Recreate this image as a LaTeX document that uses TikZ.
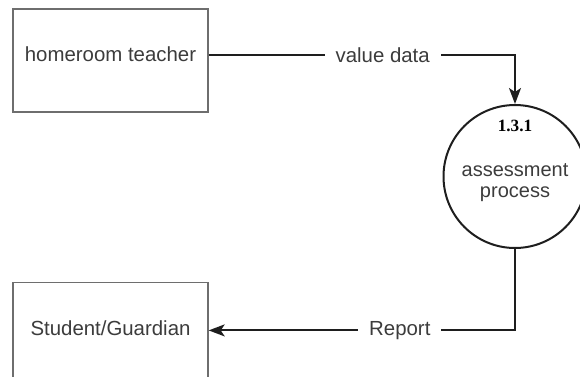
\documentclass[tikz,border=0pt]{standalone}
\usepackage{fontspec}
\setmainfont{Liberation Sans}
\newfontfamily\numfont{Liberation Serif}
\usetikzlibrary{arrows.meta, positioning}
\definecolor{linegray}{RGB}{30, 30, 30}
\definecolor{boxgray}{RGB}{110, 110, 110}
\definecolor{textgray}{RGB}{60, 60, 60}

\begin{document}
\begin{tikzpicture}[
        x=0.5pt, y=-0.5pt,
        entity/.style={rectangle, draw=boxgray, line width=0.7pt, fill=white, minimum width=97.5pt, minimum height=51.5pt, text depth=6pt, align=center, font=\fontsize{10.2}{12}\selectfont, text=textgray},
        process/.style={circle, draw=linegray, line width=1pt, minimum size=143pt/2, inner sep=0pt},
        proctext/.style={align=center, font=\fontsize{10}{10.5}\selectfont, text=textgray},
        numtext/.style={font=\numfont\bfseries\fontsize{8.6}{10}\selectfont, text=black, inner sep=2pt},
        flowlabel/.style={fill=white, inner xsep=5.5pt, inner ysep=1pt, font=\fontsize{10.2}{12}\selectfont, text=textgray},
        arrow/.style={-{Stealth[length=8pt, width=6pt, inset=2pt]}, line width=1pt, draw=linegray}
    ]
        \useasboundingbox (0,0) rectangle (580,376);

        % Nodes
        \node[entity] (teacher) at (110.5,60.5) {homeroom teacher};
        \node[entity, below=84.5pt of teacher] (student) {Student/Guardian};
        \node[process] (proc) at (515,176.5) {};
        \node[numtext, below=6pt of proc.north] (procnum) {1.3.1};
        \node[proctext, yshift=-3pt] (procname) at (proc) {assessment\\process};

        % Connections
        \draw[arrow] ([yshift=2.75pt]teacher.east) -| node[pos=0.284, flowlabel] {value data} (proc.north);
        \draw[arrow] (proc.south) |- node[pos=0.688, flowlabel] {Report} ([yshift=1.75pt]student.east);
    \end{tikzpicture}
\end{document}
